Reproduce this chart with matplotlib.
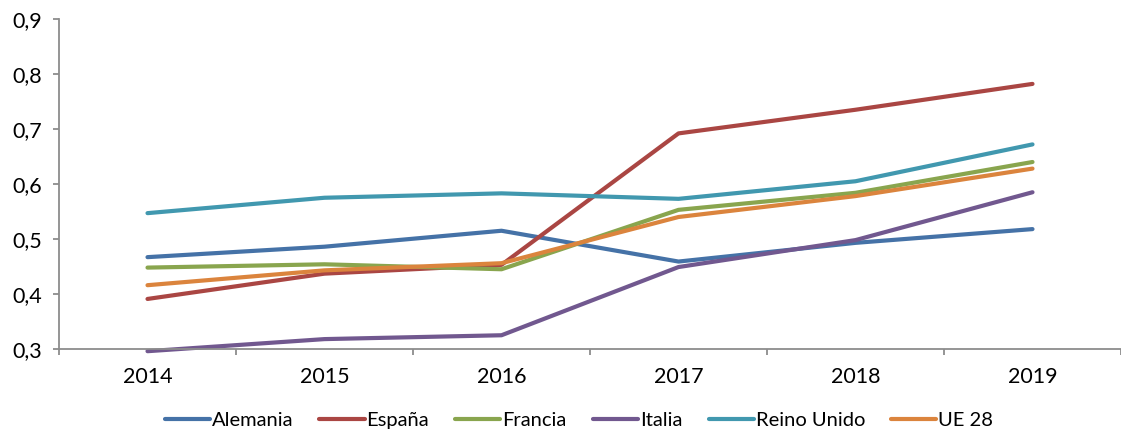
import matplotlib
matplotlib.use("Agg")
import matplotlib.pyplot as plt
import numpy as np

years = ["2014", "2015", "2016", "2017", "2018", "2019"]
alemania = [0.467, 0.486, 0.515, 0.459, 0.493, 0.518]
espana = [0.391, 0.437, 0.453, 0.692, 0.735, 0.782]
francia = [0.448, 0.454, 0.445, 0.553, 0.584, 0.640]
italia = [0.296, 0.318, 0.325, 0.449, 0.498, 0.585]
reino_unido = [0.547, 0.575, 0.583, 0.573, 0.605, 0.672]
ue28 = [0.416, 0.443, 0.456, 0.540, 0.578, 0.628]

series = [
    ("Alemania", alemania, "#4572A7"),
    ("España", espana, "#AA4643"),
    ("Francia", francia, "#89A54E"),
    ("Italia", italia, "#71588F"),
    ("Reino Unido", reino_unido, "#4198AF"),
    ("UE 28", ue28, "#DB843D"),
]

AXIS = "#8c8c8c"
plt.rcParams["font.family"] = ["Lato", "DejaVu Sans"]

fig = plt.figure(figsize=(11.21, 4.32), dpi=100)
ax = fig.add_axes([59 / 1121, 1 - 349 / 432, 1 - 59 / 1121, (349 - 19) / 432])

x = np.arange(len(years))
for name, vals, col in series:
    ax.plot(x, vals, color=col, linewidth=3.0, label=name,
            solid_capstyle="round", solid_joinstyle="round", clip_on=False)

ax.set_xlim(-0.5, len(years) - 0.5)
ax.set_ylim(0.3, 0.9)
yt = np.arange(0.3, 0.91, 0.1)
ax.set_yticks(yt)
ax.set_yticklabels([f"{v:.1f}".replace(".", ",") for v in yt])
ax.set_xticks(x)
ax.set_xticklabels(years)
ax.set_xticks(np.arange(-0.5, len(years), 1.0), minor=True)
ax.tick_params(axis="x", which="major", length=0, pad=13, labelsize=15.5, colors="#000000")
ax.tick_params(axis="x", which="minor", length=4.5, color=AXIS, width=1.3)
ax.tick_params(axis="y", length=4.5, color=AXIS, width=1.3, labelsize=15.5, pad=8)

for s in ("top", "right"):
    ax.spines[s].set_visible(False)
for s in ("left", "bottom"):
    ax.spines[s].set_color(AXIS)
    ax.spines[s].set_linewidth(1.3)

fig.legend(loc="center", bbox_to_anchor=(579 / 1121, 1 - 420 / 432), ncol=6,
           frameon=False, fontsize=14.5, handlelength=2.24, handletextpad=0.1,
           columnspacing=1.3, borderpad=0, borderaxespad=0)

fig.savefig("out.png", dpi=100, facecolor="white")
